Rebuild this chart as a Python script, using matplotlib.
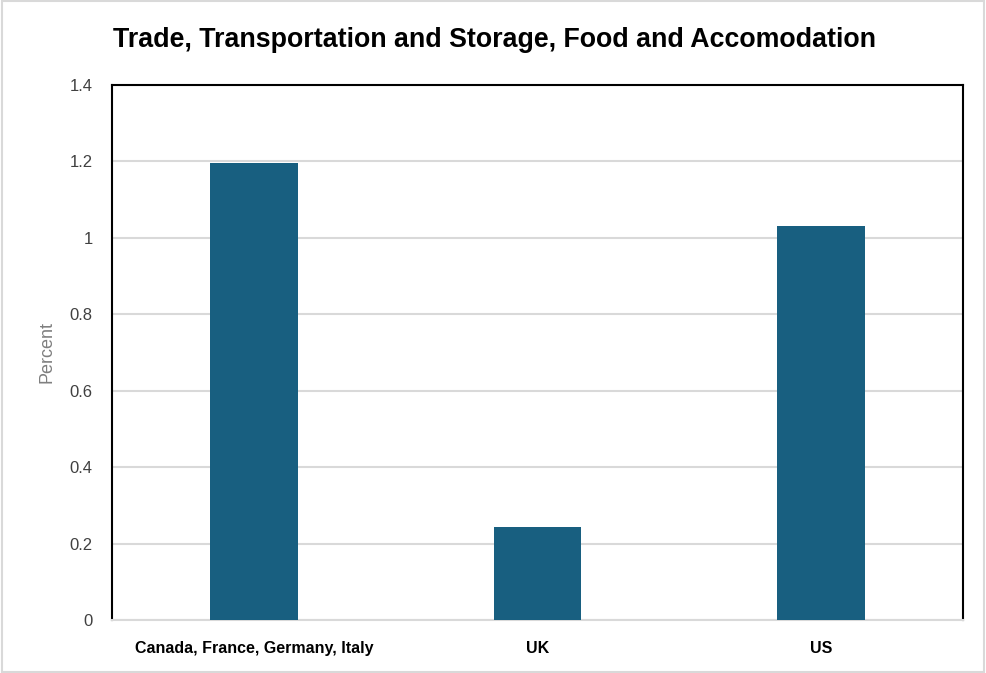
import matplotlib.pyplot as plt

# sector values by country group
categories = ['Canada, France, Germany, Italy', 'UK', 'US']
values = [1.197, 0.244, 1.032]
yticks = [0, 0.2, 0.4, 0.6, 0.8, 1.0, 1.2, 1.4]
ytick_labels = ['0', '0.2', '0.4', '0.6', '0.8', '1', '1.2', '1.4']

font = 'Liberation Sans'

fig = plt.figure(figsize=(9.86, 6.73), dpi=100)
ax = fig.add_axes([112 / 986, 1 - 620 / 673, 851 / 986, 535 / 673])

x = range(len(categories))
ax.bar(x, values, width=0.31, color='#185f80', zorder=3)

ax.set_xlim(-0.5, 2.5)
ax.set_ylim(0, 1.4)
ax.set_yticks(yticks)
ax.set_yticklabels(ytick_labels, fontfamily=font, fontsize=12, color='#404040')
ax.set_xticks(list(x))
ax.set_xticklabels(categories, fontfamily=font, fontweight='bold', fontsize=11.5, color='black')
ax.tick_params(axis='both', length=0)
ax.tick_params(axis='y', pad=14)
ax.tick_params(axis='x', pad=15)
ax.grid(axis='y', color='#d9d9d9', linewidth=1.5, zorder=0)

for side in ['left', 'top', 'right']:
    ax.spines[side].set_color('black')
    ax.spines[side].set_linewidth(1.5)
ax.spines['bottom'].set_color('#d9d9d9')
ax.spines['bottom'].set_linewidth(1.5)

ax.set_ylabel('Percent', fontfamily=font, fontsize=13, color='#7f7f7f', labelpad=10)

fig.text(495 / 986, 1 - 40 / 673, 'Trade, Transportation and Storage, Food and Accomodation',
         ha='center', va='center', fontfamily=font, fontweight='bold', fontsize=19.3)

# thin frame around the whole figure
fig.patches.append(plt.Rectangle((0.002, 0.002), 0.996, 0.996, transform=fig.transFigure,
                                 fill=False, edgecolor='#d9d9d9', linewidth=1.5))

fig.savefig('out.png', dpi=100)
